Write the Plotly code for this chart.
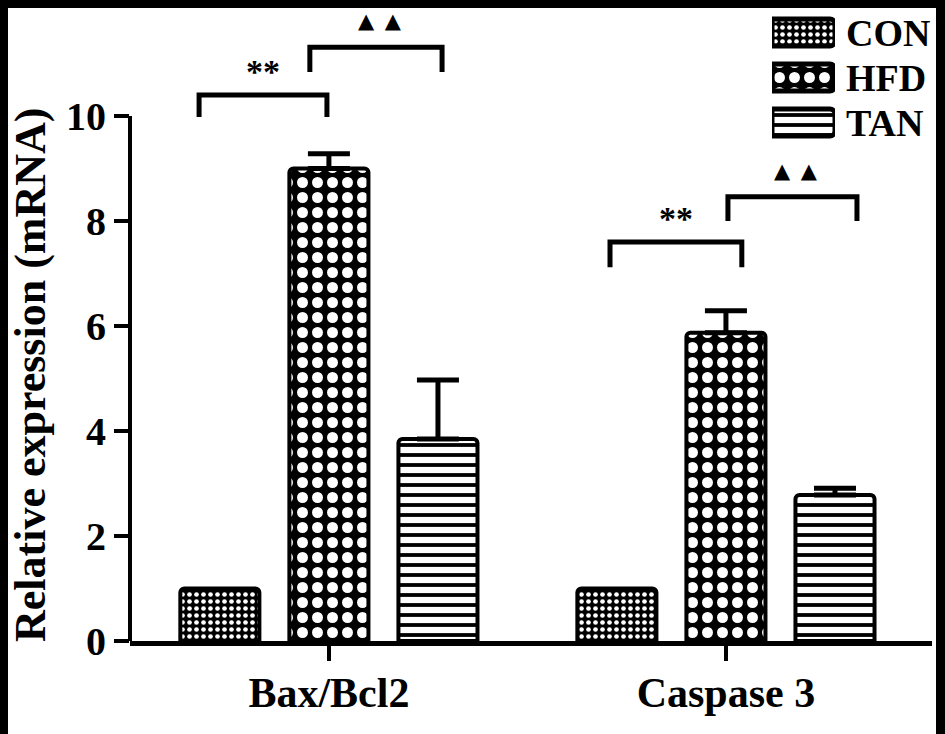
import plotly.graph_objects as go

# ---- data ----
categories = ["Bax/Bcl2", "Caspase 3"]
groups = ["CON", "HFD", "TAN"]
con_values = [1.0, 1.0]
hfd_values = [9.0, 5.87]
hfd_errors = [0.28, 0.42]
tan_values = [3.85, 2.78]
tan_errors = [1.12, 0.13]

# significance marks
sig_labels = ["**", "\u25B2\u2002\u25B2", "**", "\u25B2\u2002\u25B2"]
sig_categories = [0, 0, 1, 1]
sig_bar_y = [10.4, 11.31, 7.6, 8.46]
sig_leg_y = [9.98, 10.84, 7.12, 8.0]

# ---- layout helpers ----
W, H = 945, 734
L, R, T, B = 130, 13, 10, 93
PW, PH = W - L - R, H - T - B
def px_x(px):
    return (px - L) / PW
def px_y(py):
    return (H - B - py) / PH

FONT = "Liberation Serif, Times New Roman, serif"

styles = {
    "CON": dict(color="black", shape=".", bg="black", fg="white", size=7, solidity=0.35),
    "HFD": dict(color="black", shape=".", bg="black", fg="white", size=15, solidity=0.42),
    "TAN": dict(color="white", shape="-", bg="white", fg="black", size=10, solidity=0.38),
}
def marker_for(name, lw=4, cr=4):
    s = styles[name]
    return dict(color=s["color"], line=dict(color="black", width=lw), cornerradius=cr,
                pattern=dict(shape=s["shape"], bgcolor=s["bg"], fgcolor=s["fg"],
                             size=s["size"], solidity=s["solidity"],
                             fillmode="replace", fgopacity=1))

ERR = dict(type="data", symmetric=False, color="black", thickness=5, width=21)

fig = go.Figure()
fig.add_trace(go.Bar(name="CON", x=categories, y=con_values, marker=marker_for("CON")))
fig.add_trace(go.Bar(name="HFD", x=categories, y=hfd_values, marker=marker_for("HFD"),
                     error_y=dict(ERR, array=hfd_errors, arrayminus=[0] * len(hfd_errors))))
fig.add_trace(go.Bar(name="TAN", x=categories, y=tan_values, marker=marker_for("TAN"),
                     error_y=dict(ERR, array=tan_errors, arrayminus=[0] * len(tan_errors))))

# legend key: one swatch per group on an inset axis
for g in groups:
    fig.add_trace(go.Bar(
        x=[1], y=[g], orientation="h", xaxis="x2", yaxis="y2", offsetgroup="key",
        showlegend=False, hoverinfo="skip", marker=marker_for(g, lw=5, cr=5),
    ))

br_left = [-0.327, -0.048, -0.292, 0.005]
br_right = [-0.005, 0.285, 0.040, 0.330]
shapes = []
annotations = []
for i in range(len(sig_labels)):
    c = sig_categories[i]
    x0, x1 = c + br_left[i], c + br_right[i]
    shapes.append(dict(type="path", xref="x", yref="y",
                       path=f"M{x0},{sig_leg_y[i]} L{x0},{sig_bar_y[i]} L{x1},{sig_bar_y[i]} L{x1},{sig_leg_y[i]}",
                       line=dict(color="black", width=5)))
    is_star = sig_labels[i] == "**"
    annotations.append(dict(
        x=(x0 + x1) / 2 + (0 if is_star else 0.01), y=sig_bar_y[i] + (0.45 if is_star else 0.5),
        xref="x", yref="y",
        text=sig_labels[i], showarrow=False, yanchor="middle",
        font=dict(family=FONT if is_star else "DejaVu Sans", size=34 if is_star else 21,
                  color="black", weight="bold"),
    ))

# y axis line (0 to 10)
shapes.append(dict(type="line", xref="paper", yref="y", x0=0, x1=0, y0=0, y1=10,
                   line=dict(color="black", width=4)))
# black frame
shapes += [
    dict(type="rect", xref="paper", yref="paper", x0=px_x(-5), x1=px_x(8), y0=px_y(H + 5), y1=px_y(-5),
         fillcolor="black", line=dict(width=0)),
    dict(type="rect", xref="paper", yref="paper", x0=px_x(-5), x1=px_x(W + 5), y0=px_y(8), y1=px_y(-5),
         fillcolor="black", line=dict(width=0)),
    dict(type="rect", xref="paper", yref="paper", x0=px_x(936), x1=px_x(W + 5), y0=px_y(H + 5), y1=px_y(-5),
         fillcolor="black", line=dict(width=0)),
]

annotations.append(dict(
    x=px_x(30), y=px_y(375), xref="paper", yref="paper", text="Relative expression (mRNA)",
    textangle=-90, showarrow=False, xanchor="center", yanchor="middle",
    font=dict(family=FONT, size=44, color="black", weight="bold"),
))

fig.update_layout(
    width=W, height=H,
    margin=dict(l=L, r=R, t=T, b=B),
    paper_bgcolor="white", plot_bgcolor="white",
    barmode="group", bargap=0.176, bargroupgap=0.275,
    font=dict(family=FONT, color="black"),
    shapes=shapes, annotations=annotations,
    showlegend=False,
    xaxis=dict(range=[-0.501, 1.519], showline=True, linecolor="black", linewidth=5,
               ticks="outside", ticklen=15, tickwidth=4, tickcolor="black",
               ticklabelstandoff=-4, showgrid=False, zeroline=False,
               tickfont=dict(family=FONT, size=42, color="black", weight="bold")),
    yaxis=dict(range=[0, (H - B - T) / 52.5], showline=False, tickvals=[0, 2, 4, 6, 8, 10],
               ticks="outside", ticklen=15, tickwidth=4, tickcolor="black",
               showgrid=False, zeroline=False,
               tickfont=dict(family=FONT, size=40, color="black", weight="bold")),
    xaxis2=dict(domain=[px_x(772), px_x(835)], anchor="y2", range=[0, 1],
                visible=False, fixedrange=True),
    yaxis2=dict(domain=[px_y(145), px_y(10)], anchor="x2", side="right",
                autorange="reversed", showline=False, showgrid=False, zeroline=False,
                tickmode="array", tickvals=groups, ticktext=groups,
                ticks="", ticklabelstandoff=10, fixedrange=True,
                tickfont=dict(family=FONT, size=38, color="black", weight="bold")),
)
fig.write_html("out.html", post_script="document.body.style.margin='0';",
               config={"displayModeBar": False})
